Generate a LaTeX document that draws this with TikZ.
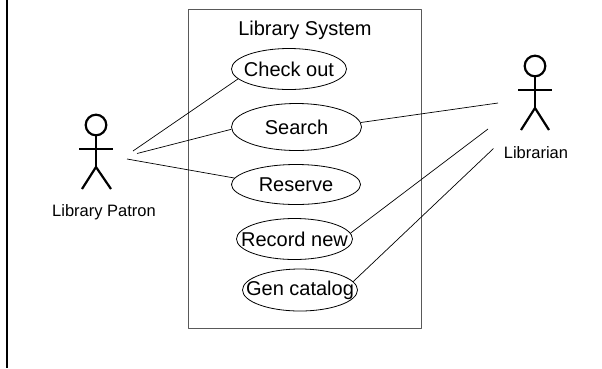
\documentclass[tikz,border=0pt]{standalone}
\usepackage{fontspec}
\setmainfont{Liberation Sans}
\usetikzlibrary{shapes.geometric}
\begin{document}
\begin{tikzpicture}[x=1pt, y=-1pt, line join=round,
    usecase/.style={ellipse, draw, line width=0.8pt, inner sep=0pt, font=\fontsize{20}{24}\selectfont},
    actor/.style={line width=2.2pt},
    assoc/.style={line width=0.7pt},
    actorlabel/.style={font=\fontsize{16.5}{20}\selectfont}]
    \useasboundingbox (0,0) rectangle (602,368);
    \draw[line width=2pt] (7,0) -- (7,368);

    % System boundary
    \draw[black!65, line width=1pt] (188,9) rectangle (421,328);
    \node[anchor=base, font=\fontsize{20}{24}\selectfont] (title) at (305,35) {Library System};

    % Use cases
    \node[usecase, minimum width=115, minimum height=41] (checkout) at (289,69) {\makebox[0pt]{Check out}};
    \node[usecase, minimum width=130, minimum height=47] (search) at (296.5,127) {\makebox[0pt]{Search}};
    \node[usecase, minimum width=129, minimum height=40] (reserve) at (296,184.5) {\makebox[0pt]{Reserve}};
    \node[usecase, minimum width=116, minimum height=41] (recordnew) at (294.5,239) {\makebox[0pt]{Record new}};
    \node[usecase, minimum width=115, minimum height=42] (gencatalog) at (300,290) {\makebox[0pt]{Gen catalog}};

    % Actor 1
    \draw[actor] (96,125) circle (10.3);
    \draw[actor] (96,135.5) -- (96,167);
    \draw[actor] (79,149) -- (113,149);
    \draw[actor] (82,189) -- (96,167) -- (111,189);
    \node[actorlabel] (patron) at (104,212) {Library Patron};

    % Actor 2
    \draw[actor] (535,66) circle (10.3);
    \draw[actor] (535,76.5) -- (535,108);
    \draw[actor] (518,90) -- (552,90);
    \draw[actor] (521,130) -- (535,108) -- (549,130);
    \node[actorlabel] (librarian) at (536,153) {Librarian};

    % Associations
    \coordinate (patron1) at (133,151);
    \coordinate (patron2) at (137,153.5);
    \coordinate (patron3) at (127,159);
    \coordinate (librarian1) at (498,103);
    \coordinate (librarian2) at (488,129);
    \coordinate (librarian3) at (493.5,148.5);
    \draw[assoc] (patron1) -- (checkout.191);
    \draw[assoc] (patron2) -- (search.182);
    \draw[assoc] (patron3) -- (reserve.174);
    \draw[assoc] (search.4) -- (librarian1);
    \draw[assoc] (recordnew.6) -- (librarian2);
    \draw[assoc] (gencatalog.9) -- (librarian3);
\end{tikzpicture}
\end{document}
